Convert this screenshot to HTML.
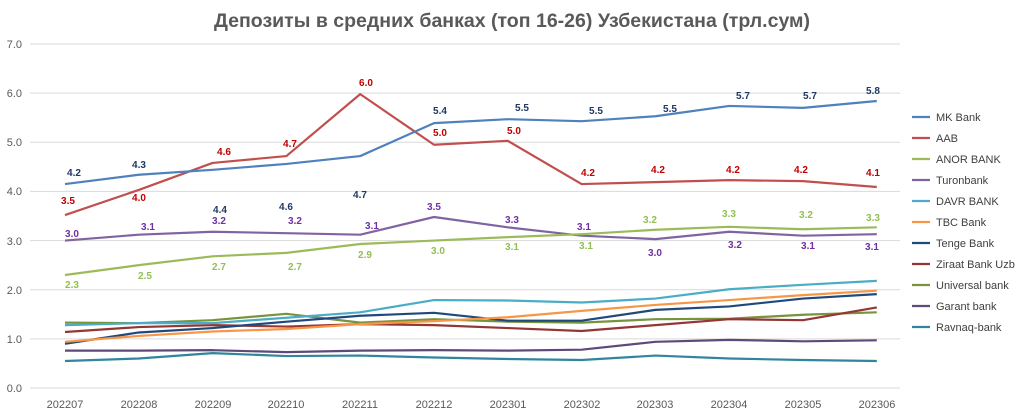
<!DOCTYPE html>
<html><head><meta charset="utf-8"><style>
body{margin:0;background:#fff;}
svg{display:block;font-family:"Liberation Sans Narrow","Liberation Sans",sans-serif;}
.ax{font-family:"Liberation Sans",sans-serif;font-size:11px;fill:#595959;}
.lb{font-size:10px;font-weight:bold;text-anchor:middle;font-family:"Liberation Sans",sans-serif;}
.lg{font-size:11px;fill:#404040;font-family:"Liberation Sans",sans-serif;}
polyline{fill:none;stroke-width:2.2;vector-effect:non-scaling-stroke;stroke-linejoin:round;}
</style></head><body>
<svg width="1024" height="416" viewBox="0 0 1024 416">
<text x="512" y="27" text-anchor="middle" font-size="19.5" font-weight="bold" fill="#595959" textLength="596" lengthAdjust="spacingAndGlyphs">Депозиты в средних банках (топ 16-26) Узбекистана (трл.сум)</text>
<g stroke="#d9d9d9" stroke-width="1">
<line x1="30" x2="900" y1="44" y2="44"/><line x1="30" x2="900" y1="93.1" y2="93.1"/><line x1="30" x2="900" y1="142.3" y2="142.3"/><line x1="30" x2="900" y1="191.4" y2="191.4"/><line x1="30" x2="900" y1="240.6" y2="240.6"/><line x1="30" x2="900" y1="289.7" y2="289.7"/><line x1="30" x2="900" y1="338.9" y2="338.9"/><line x1="30" x2="900" y1="388" y2="388"/>
</g>
<g class="ax" text-anchor="end">
<text x="22" y="48">7.0</text><text x="22" y="97">6.0</text><text x="22" y="146">5.0</text><text x="22" y="195">4.0</text><text x="22" y="245">3.0</text><text x="22" y="294">2.0</text><text x="22" y="343">1.0</text><text x="22" y="392">0.0</text>
</g>
<g class="ax" text-anchor="middle">
<text x="65" y="408">202207</text><text x="139" y="408">202208</text><text x="213" y="408">202209</text><text x="286" y="408">202210</text><text x="360" y="408">202211</text><text x="434" y="408">202212</text><text x="508" y="408">202301</text><text x="582" y="408">202302</text><text x="655" y="408">202303</text><text x="729" y="408">202304</text><text x="803" y="408">202305</text><text x="877" y="408">202306</text>
</g>
<g transform="translate(65,388) scale(73.8,-49.14)">
<polyline stroke="#31859c" points="0,0.55 1,0.6 2,0.71 3,0.65 4,0.66 5,0.62 6,0.59 7,0.57 8,0.66 9,0.6 10,0.57 11,0.55"/>
<polyline stroke="#5f497a" points="0,0.76 1,0.76 2,0.77 3,0.73 4,0.76 5,0.77 6,0.76 7,0.78 8,0.94 9,0.98 10,0.95 11,0.97"/>
<polyline stroke="#77933c" points="0,1.33 1,1.32 2,1.38 3,1.51 4,1.33 5,1.4 6,1.35 7,1.33 8,1.4 9,1.41 10,1.49 11,1.54"/>
<polyline stroke="#943634" points="0,1.14 1,1.24 2,1.28 3,1.25 4,1.3 5,1.28 6,1.22 7,1.16 8,1.28 9,1.4 10,1.38 11,1.64"/>
<polyline stroke="#1f497d" points="0,0.9 1,1.13 2,1.22 3,1.35 4,1.47 5,1.53 6,1.37 7,1.37 8,1.59 9,1.66 10,1.82 11,1.91"/>
<polyline stroke="#f79646" points="0,0.94 1,1.06 2,1.15 3,1.2 4,1.3 5,1.36 6,1.44 7,1.57 8,1.69 9,1.79 10,1.89 11,1.98"/>
<polyline stroke="#4bacc6" points="0,1.28 1,1.32 2,1.32 3,1.43 4,1.54 5,1.79 6,1.78 7,1.74 8,1.82 9,2.01 10,2.1 11,2.18"/>
<polyline stroke="#8064a2" points="0,3.0 1,3.12 2,3.18 3,3.15 4,3.12 5,3.48 6,3.27 7,3.1 8,3.03 9,3.18 10,3.1 11,3.13"/>
<polyline stroke="#9bbb59" points="0,2.3 1,2.5 2,2.68 3,2.75 4,2.93 5,3.0 6,3.07 7,3.13 8,3.22 9,3.28 10,3.23 11,3.27"/>
<polyline stroke="#c0504d" points="0,3.52 1,4.03 2,4.58 3,4.72 4,5.98 5,4.95 6,5.03 7,4.15 8,4.19 9,4.23 10,4.21 11,4.09"/>
<polyline stroke="#4f81bd" points="0,4.15 1,4.34 2,4.44 3,4.56 4,4.72 5,5.39 6,5.47 7,5.43 8,5.53 9,5.74 10,5.7 11,5.84"/>
</g>
<g class="lb" fill="#1f3864">
<text x="74" y="176">4.2</text><text x="139" y="168">4.3</text><text x="220" y="213">4.4</text><text x="286" y="210">4.6</text><text x="360" y="198">4.7</text><text x="440" y="114">5.4</text><text x="522" y="111">5.5</text><text x="596" y="114">5.5</text><text x="670" y="112">5.5</text><text x="743" y="99">5.7</text><text x="810" y="99">5.7</text><text x="873" y="94">5.8</text>
</g>
<g class="lb" fill="#c00000">
<text x="68" y="204">3.5</text><text x="139" y="201">4.0</text><text x="224" y="155">4.6</text><text x="290" y="147">4.7</text><text x="366" y="86">6.0</text><text x="440" y="136">5.0</text><text x="514" y="134">5.0</text><text x="588" y="176">4.2</text><text x="658" y="173">4.2</text><text x="733" y="173">4.2</text><text x="801" y="173">4.2</text><text x="873" y="176">4.1</text>
</g>
<g class="lb" fill="#92c050">
<text x="72" y="288">2.3</text><text x="145" y="279">2.5</text><text x="219" y="270">2.7</text><text x="295" y="270">2.7</text><text x="365" y="258">2.9</text><text x="438" y="254">3.0</text><text x="512" y="250">3.1</text><text x="586" y="249">3.1</text><text x="650" y="223">3.2</text><text x="729" y="217">3.3</text><text x="806" y="218">3.2</text><text x="873" y="221">3.3</text>
</g>
<g class="lb" fill="#7030a0">
<text x="72" y="237">3.0</text><text x="148" y="230">3.1</text><text x="219" y="224">3.2</text><text x="295" y="224">3.2</text><text x="372" y="229">3.1</text><text x="434" y="210">3.5</text><text x="512" y="223">3.3</text><text x="584" y="230">3.1</text><text x="655" y="256">3.0</text><text x="735" y="248">3.2</text><text x="808" y="249">3.1</text><text x="872" y="250">3.1</text>
</g>
<g stroke-width="2.2">
<line x1="912" x2="930" y1="117" y2="117" stroke="#4f81bd"/>
<line x1="912" x2="930" y1="138" y2="138" stroke="#c0504d"/>
<line x1="912" x2="930" y1="159" y2="159" stroke="#9bbb59"/>
<line x1="912" x2="930" y1="180" y2="180" stroke="#8064a2"/>
<line x1="912" x2="930" y1="201" y2="201" stroke="#4bacc6"/>
<line x1="912" x2="930" y1="222" y2="222" stroke="#f79646"/>
<line x1="912" x2="930" y1="243" y2="243" stroke="#1f497d"/>
<line x1="912" x2="930" y1="264" y2="264" stroke="#943634"/>
<line x1="912" x2="930" y1="285" y2="285" stroke="#77933c"/>
<line x1="912" x2="930" y1="306" y2="306" stroke="#5f497a"/>
<line x1="912" x2="930" y1="327" y2="327" stroke="#31859c"/>
</g>
<g class="lg">
<text x="936" y="121">MK Bank</text><text x="936" y="142">AAB</text><text x="936" y="163">ANOR BANK</text><text x="936" y="184">Turonbank</text><text x="936" y="205">DAVR BANK</text><text x="936" y="226">TBC Bank</text><text x="936" y="247">Tenge Bank</text><text x="936" y="268">Ziraat Bank Uzb</text><text x="936" y="289">Universal bank</text><text x="936" y="310">Garant bank</text><text x="936" y="331">Ravnaq-bank</text>
</g>
</svg>
</body></html>
